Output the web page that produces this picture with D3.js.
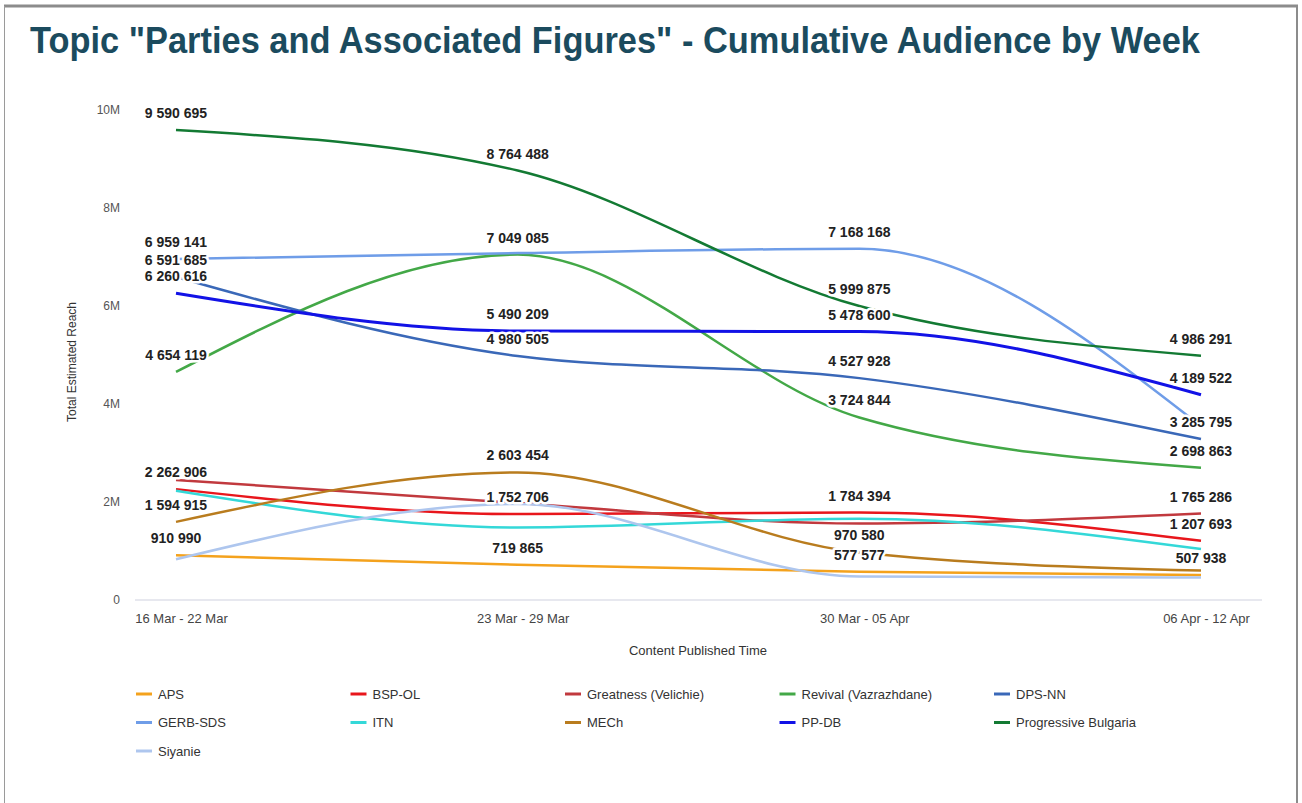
<!DOCTYPE html>
<html>
<head>
<meta charset="utf-8">
<title>Parties and Associated Figures</title>
<script src="https://cdn.jsdelivr.net/npm/d3@7"></script>
<style>
  body { margin: 0; background: #fff; }
  svg text { font-family: "Liberation Sans", Arial, sans-serif; }
</style>
</head>
<body>
<svg width="1302" height="803"></svg>
<script>
// weeks on the x axis
var weeks = ["16 Mar - 22 Mar", "23 Mar - 29 Mar", "30 Mar - 05 Apr", "06 Apr - 12 Apr"];

// series, in legend order
var parties = ["APS", "BSP-OL", "Greatness (Velichie)", "Revival (Vazrazhdane)", "DPS-NN",
               "GERB-SDS", "ITN", "MECh", "PP-DB", "Progressive Bulgaria", "Siyanie"];
var colors = ["#f4a21d", "#e8161c", "#c1393e", "#43a847", "#3a68b8",
              "#6f9de8", "#34d8d8", "#b97c1e", "#1212e6", "#137a33", "#aec6ee"];

// weekly reach per party (unlabelled points)
var aps         = [910990, 719865, 577577, 507938];
var bspOl       = [2262906, 1752706, 1784394, 1207693];
var greatness   = [2450000, 1980000, 1560000, 1765286];
var revival     = [4654119, 7049085, 3724844, 2698863];
var dpsNn       = [6591685, 4980505, 4527928, 3285795];
var gerbSds     = [6959141, 7080000, 7168168, 3550000];
var itn         = [2230000, 1480000, 1660000, 1040000];
var mech        = [1594915, 2603454, 970580, 600000];
var ppDb        = [6260616, 5490209, 5478600, 4189522];
var progressive = [9590695, 8764488, 5999875, 4986291];
var siyanie     = [830000, 1960000, 480000, 460000];

var values = [aps, bspOl, greatness, revival, dpsNn, gerbSds, itn, mech, ppDb, progressive, siyanie];

// which value labels are visible: [series index, week index]
var shownLabels = [
  [9,0],[9,1],[9,2],[9,3],
  [5,0],[5,2],
  [3,0],[3,1],[3,2],[3,3],
  [4,0],[4,1],[4,2],[4,3],
  [8,0],[8,1],[8,2],[8,3],
  [1,0],[1,1],[1,2],[1,3],
  [2,3],
  [7,0],[7,1],[7,2],
  [0,0],[0,1],[0,2],[0,3]
];

var yTicks = [0, 2000000, 4000000, 6000000, 8000000, 10000000];

var svg = d3.select("svg");

// frame
svg.append("line").attr("x1", 4).attr("x2", 1298).attr("y1", 6).attr("y2", 6)
    .attr("stroke", "#8c8c8c").attr("stroke-width", 3);
svg.append("line").attr("x1", 4.5).attr("x2", 4.5).attr("y1", 6).attr("y2", 803)
    .attr("stroke", "#9a9a9a").attr("stroke-width", 1);
svg.append("line").attr("x1", 1297).attr("x2", 1297).attr("y1", 6).attr("y2", 803)
    .attr("stroke", "#8c8c8c").attr("stroke-width", 2);

svg.append("text")
    .attr("x", 30).attr("y", 53)
    .attr("font-size", 36).attr("font-weight", "bold")
    .attr("fill", "#1b4b5e")
    .attr("textLength", 1170).attr("lengthAdjust", "spacingAndGlyphs")
    .text('Topic "Parties and Associated Figures" - Cumulative Audience by Week');

var x = d3.scalePoint().domain(weeks).range([176, 1201]);
var y = d3.scaleLinear().domain([0, 10000000]).range([600, 110]);

// baseline
svg.append("line").attr("x1", 135).attr("x2", 1262)
    .attr("y1", y(0)).attr("y2", y(0))
    .attr("stroke", "#dfe1ea").attr("stroke-width", 1.5);

// y axis
var yAxis = svg.append("g")
    .attr("transform", "translate(120,0)")
    .call(d3.axisLeft(y).tickValues(yTicks).tickSize(0).tickPadding(0)
      .tickFormat(function(d) { return d === 0 ? "0" : (d / 1e6) + "M"; }));
yAxis.select(".domain").remove();
yAxis.selectAll("text").attr("font-size", 12).attr("fill", "#555")
    .style("font-family", '"Liberation Sans", Arial, sans-serif');

svg.append("text")
    .attr("transform", "translate(76,362) rotate(-90)")
    .attr("text-anchor", "middle").attr("font-size", 12).attr("fill", "#333")
    .text("Total Estimated Reach");

// x axis
var xAxis = svg.append("g")
    .attr("transform", "translate(5,614)")
    .call(d3.axisBottom(x).tickSize(0).tickPadding(0));
xAxis.select(".domain").remove();
xAxis.selectAll("text").attr("font-size", 13).attr("fill", "#444")
    .style("font-family", '"Liberation Sans", Arial, sans-serif');

svg.append("text")
    .attr("x", 698).attr("y", 655)
    .attr("text-anchor", "middle").attr("font-size", 13).attr("fill", "#333")
    .text("Content Published Time");

// lines
var line = d3.line()
    .x(function(d, i) { return x(weeks[i]); })
    .y(function(d) { return y(d); })
    .curve(d3.curveMonotoneX);

svg.append("g").selectAll("path")
    .data(values)
    .enter().append("path")
      .attr("d", line)
      .attr("fill", "none")
      .attr("stroke", function(d, i) { return colors[i]; })
      .attr("stroke-width", function(d, i) { return i === 8 ? 3 : 2.5; });

// value labels
svg.append("g").selectAll("text")
    .data(shownLabels)
    .enter().append("text")
      .attr("x", function(d) { return x(weeks[d[1]]); })
      .attr("y", function(d) { return y(values[d[0]][d[1]]) - 12; })
      .attr("text-anchor", "middle")
      .attr("font-size", 14).attr("font-weight", "bold")
      .attr("fill", "#222")
      .attr("stroke", "#fff").attr("stroke-width", 5)
      .attr("stroke-linejoin", "round")
      .attr("paint-order", "stroke")
      .text(function(d) { return d3.format(",")(values[d[0]][d[1]]).replace(/,/g, " "); });

// legend
var legend = svg.append("g").selectAll("g")
    .data(parties)
    .enter().append("g")
      .attr("transform", function(d, i) {
        return "translate(" + (136 + (i % 5) * 214.5) + "," + (694 + Math.floor(i / 5) * 28.5) + ")";
      });

legend.append("line")
    .attr("x1", 0).attr("x2", 16).attr("y1", 0).attr("y2", 0)
    .attr("stroke", function(d, i) { return colors[i]; })
    .attr("stroke-width", 3);

legend.append("text")
    .attr("x", 22).attr("y", 4.5)
    .attr("font-size", 13).attr("fill", "#333")
    .text(function(d) { return d; });
</script>
</body>
</html>
